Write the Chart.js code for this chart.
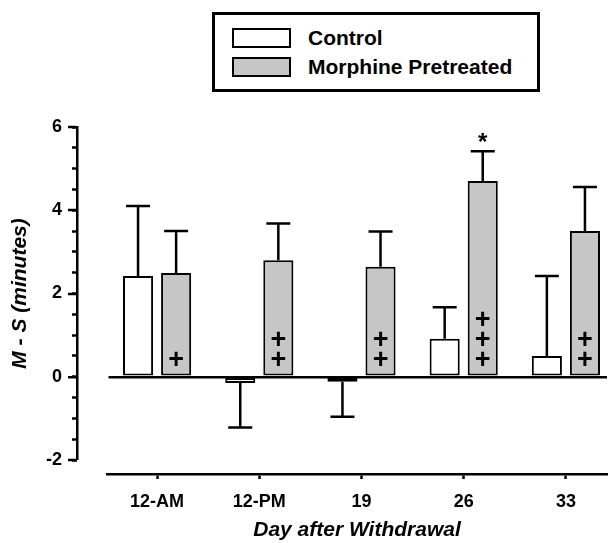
<!DOCTYPE html>
<html>
<head>
<meta charset="utf-8">
<script src="https://cdn.jsdelivr.net/npm/chart.js@4/dist/chart.umd.min.js"></script>
<style>
    body { margin: 0; background: #fff; }
    #wrap { position: relative; width: 610px; height: 543px; }
    #legend {
        position: absolute; left: 212px; top: 12px; width: 328px; height: 80px;
        box-sizing: border-box; border: 3px solid #000; background: #fff;
        padding: 13px 0 0 17px;
        font: bold 21px "Liberation Sans", Arial, sans-serif; color: #000;
    }
    #legend .item { display: flex; align-items: center; height: 20px; margin-bottom: 9px; }
    #legend .box { width: 59px; height: 20px; box-sizing: border-box; border: 2.5px solid #000; margin-right: 17px; }
</style>
</head>
<body>
<div id="wrap">
    <canvas id="msChart" width="610" height="543"></canvas>
    <div id="legend"></div>
</div>
<script>
var days = ['12-AM', '12-PM', '19', '26', '33'];
var control = [2.42, -0.15, -0.12, 0.91, 0.50];
var controlErr = [1.68, 1.07, 0.84, 0.76, 1.92];
var morphine = [2.49, 2.80, 2.64, 4.70, 3.50];
var morphineErr = [1.01, 0.88, 0.85, 0.72, 1.06];
var plusMarks = [1, 2, 2, 3, 2];
var starMarks = ['', '', '', '*', ''];
var yTicks = [-2, 0, 2, 4, 6];

var FONT = '"Liberation Sans", Arial, sans-serif';

function toPoints(values) {
    return values.map(function (v, i) { return { x: i, y: v }; });
}

// error bars (one-sided, away from zero) plus significance marks
var markPlugin = {
    id: 'marks',
    afterDatasetsDraw: function (chart) {
        var ctx = chart.ctx;
        var yScale = chart.scales.y;
        var errs = [controlErr, morphineErr];
        ctx.save();
        ctx.strokeStyle = '#000';
        ctx.lineWidth = 2.5;
        chart.data.datasets.forEach(function (ds, d) {
            var meta = chart.getDatasetMeta(d);
            meta.data.forEach(function (bar, i) {
                var v = ds.data[i].y;
                var end = v + (v < 0 ? -errs[d][i] : errs[d][i]);
                var y0 = yScale.getPixelForValue(v);
                var y1 = yScale.getPixelForValue(end);
                ctx.beginPath();
                ctx.moveTo(bar.x, y0);
                ctx.lineTo(bar.x, y1);
                ctx.moveTo(bar.x - 12, y1);
                ctx.lineTo(bar.x + 12, y1);
                ctx.stroke();
            });
        });

        var meta = chart.getDatasetMeta(1);
        var zero = yScale.getPixelForValue(0);
        ctx.fillStyle = '#000';
        ctx.textAlign = 'center';
        ctx.textBaseline = 'alphabetic';
        meta.data.forEach(function (bar, i) {
            ctx.font = 'bold 27px ' + FONT;
            for (var k = 0; k < plusMarks[i]; k++) {
                ctx.fillText('+', bar.x, zero - 9 - 20 * k);
            }
            if (starMarks[i]) {
                var top = yScale.getPixelForValue(morphine[i] + morphineErr[i]);
                ctx.font = 'bold 24px ' + FONT;
                ctx.fillText(starMarks[i], bar.x, top - 1);
            }
        });
        ctx.restore();
    }
};

var msChart = new Chart(document.getElementById('msChart').getContext('2d'), {
    type: 'bar',
    data: {
        datasets: [{
            label: 'Control',
            data: toPoints(control),
            backgroundColor: '#ffffff',
            borderColor: '#000000',
            borderWidth: 2,
            borderSkipped: false,
            xAxisID: 'x',
            yAxisID: 'y'
        }, {
            label: 'Morphine Pretreated',
            data: toPoints(morphine),
            backgroundColor: '#c6c6c6',
            borderColor: '#000000',
            borderWidth: 2,
            borderSkipped: false,
            xAxisID: 'x',
            yAxisID: 'y'
        }]
    },
    options: {
        responsive: false,
        animation: false,
        devicePixelRatio: 1,
        categoryPercentage: 0.745,
        barPercentage: 0.79,
        layout: { padding: { top: 127, right: 3, bottom: 0, left: 0 } },
        plugins: {
            legend: { display: false },
            tooltip: { enabled: false }
        },
        scales: {
            x: {
                type: 'linear',
                axis: 'x',
                position: 'bottom',
                weight: 1,
                offset: false,
                min: -0.49,
                max: 4.402,
                afterBuildTicks: function (scale) {
                    scale.ticks = days.map(function (_, i) { return { value: i }; });
                },
                afterFit: function (scale) { scale.height = 69; },
                ticks: {
                    padding: 12,
                    color: '#000',
                    font: { family: FONT, size: 18, weight: 'bold' },
                    callback: function (value) { return days[value]; }
                },
                grid: {
                    display: true,
                    offset: false,
                    drawOnChartArea: false,
                    drawTicks: true,
                    tickLength: 5,
                    tickWidth: 2.5,
                    tickColor: '#000'
                },
                border: { display: true, color: '#000', width: 2.5 },
                title: {
                    display: true,
                    text: 'Day after Withdrawal',
                    color: '#000',
                    padding: { top: 0, bottom: 0 },
                    font: { family: FONT, size: 21, weight: 'bold', style: 'italic' }
                }
            },
            xPad: {
                type: 'linear',
                axis: 'x',
                position: 'bottom',
                weight: 0,
                min: 0,
                max: 1,
                afterFit: function (scale) { scale.height = 14; },
                ticks: { display: false },
                grid: { display: false },
                border: { display: false }
            },
            y: {
                type: 'linear',
                axis: 'y',
                position: 'left',
                weight: 2,
                min: -2,
                max: 6,
                afterBuildTicks: function (scale) {
                    scale.ticks = yTicks.map(function (v) { return { value: v }; });
                },
                afterFit: function (scale) { scale.width = 77; },
                ticks: {
                    padding: 6,
                    color: '#000',
                    font: { family: FONT, size: 18, weight: 'bold' }
                },
                grid: {
                    drawOnChartArea: true,
                    drawTicks: true,
                    tickLength: 9,
                    tickWidth: 2.5,
                    tickColor: '#000',
                    color: function (c) { return c.tick && c.tick.value === 0 ? '#000' : 'rgba(0,0,0,0)'; },
                    lineWidth: function (c) { return c.tick && c.tick.value === 0 ? 2.5 : 0; }
                },
                border: { display: true, color: '#000', width: 2.5 },
                title: {
                    display: true,
                    text: 'M - S (minutes)',
                    color: '#000',
                    padding: { top: 8, bottom: 0 },
                    font: { family: FONT, size: 21, weight: 'bold', style: 'italic' }
                }
            },
            yMinor: {
                type: 'linear',
                axis: 'y',
                position: 'left',
                weight: 1,
                min: -2,
                max: 6,
                afterBuildTicks: function (scale) {
                    var t = [];
                    for (var v = -2; v <= 6; v += 0.5) t.push({ value: v });
                    scale.ticks = t;
                },
                afterFit: function (scale) { scale.width = 0; },
                ticks: { display: false },
                grid: {
                    drawOnChartArea: false,
                    drawTicks: true,
                    tickLength: 5,
                    tickWidth: 2.5,
                    tickColor: '#000'
                },
                border: { display: false }
            },
            yPad: {
                type: 'linear',
                axis: 'y',
                position: 'left',
                weight: 0,
                min: 0,
                max: 1,
                afterFit: function (scale) { scale.width = 30; },
                ticks: { display: false },
                grid: { display: false },
                border: { display: false }
            }
        }
    },
    plugins: [markPlugin]
});

// html legend built from the chart's datasets
var legendEl = document.getElementById('legend');
msChart.data.datasets.forEach(function (ds) {
    var item = document.createElement('div');
    item.className = 'item';
    var box = document.createElement('span');
    box.className = 'box';
    box.style.background = ds.backgroundColor;
    var text = document.createElement('span');
    text.textContent = ds.label;
    item.appendChild(box);
    item.appendChild(text);
    legendEl.appendChild(item);
});
</script>
</body>
</html>
